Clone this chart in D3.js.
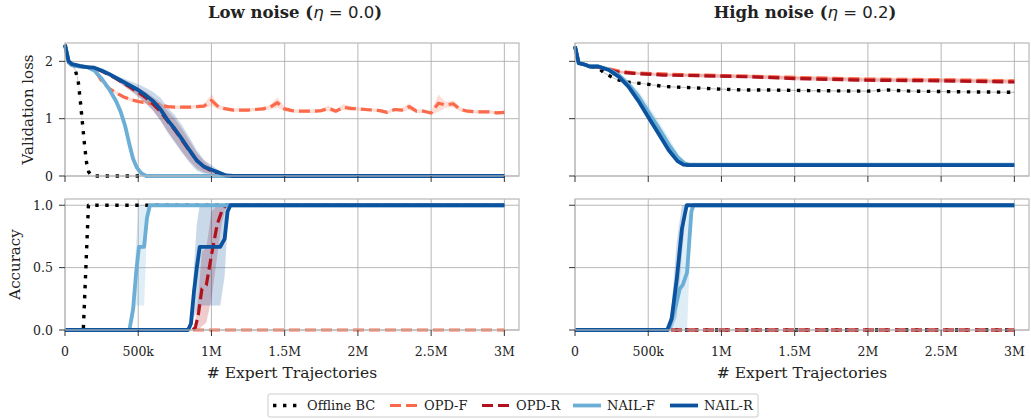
<!DOCTYPE html>
<html>
<head>
<meta charset="utf-8">
<script src="https://cdn.jsdelivr.net/npm/d3@7"></script>
<style>
body { margin: 0; background: #fff; }
text { font-family: "DejaVu Serif", serif; fill: #222; }
</style>
</head>
<body>
<script>
// x in thousands of expert trajectories, [x, mean, spread]
const xTicks = [0, 500, 1000, 1500, 2000, 2500, 3000]
const xTickLabels = ['0', '500k', '1M', '1.5M', '2M', '2.5M', '3M']
const lossTicks = [0, 1, 2]
const accTicks = [0, 0.5, 1]
const methods = ['Offline BC', 'OPD-F', 'OPD-R', 'NAIL-F', 'NAIL-R']
const panelTitles = ['Low noise', 'High noise']
const noiseLevels = ['0.0', '0.2']

// --- low noise, validation loss
const bcLowLoss = [[0,2.29,0],[25,1.98,0],[50,1.93,0.01],[70,1.85,0.02],[90,1.66,0.03],[105,1.3,0.03],[120,0.9,0.03],[135,0.5,0.02],[148,0.22,0.01],[162,0.07,0.01],[180,0.01,0],[200,0,0],[3000,0,0]]
const opdFLowLoss = [[0,2.29,0],[25,1.98,0],[50,1.93,0],[100,1.91,0],[150,1.9,0.01],[200,1.86,0.02],[250,1.66,0.03],[300,1.53,0.03],[350,1.45,0.03],[400,1.38,0.03],[450,1.33,0.03],[500,1.3,0.03],[550,1.28,0.03],[600,1.26,0.03],[650,1.24,0.03],[700,1.21,0.03],[750,1.2,0.03],[800,1.2,0.03],[850,1.2,0.03],[900,1.21,0.03],[950,1.22,0.04],[1000,1.32,0.1],[1050,1.2,0.04],[1100,1.17,0.03],[1150,1.15,0.03],[1200,1.15,0.03],[1250,1.15,0.03],[1300,1.16,0.03],[1350,1.17,0.03],[1400,1.2,0.04],[1450,1.28,0.09],[1500,1.17,0.04],[1550,1.14,0.03],[1600,1.13,0.03],[1650,1.13,0.03],[1700,1.13,0.03],[1750,1.14,0.03],[1800,1.18,0.05],[1850,1.13,0.03],[1900,1.2,0.05],[1950,1.18,0.04],[2000,1.17,0.03],[2050,1.16,0.03],[2100,1.15,0.03],[2150,1.14,0.03],[2200,1.11,0.03],[2250,1.16,0.03],[2300,1.15,0.03],[2350,1.21,0.06],[2400,1.13,0.03],[2450,1.13,0.03],[2500,1.1,0.03],[2550,1.27,0.15],[2600,1.24,0.05],[2650,1.26,0.06],[2700,1.16,0.04],[2750,1.13,0.03],[2800,1.12,0.03],[2850,1.12,0.03],[2900,1.12,0.03],[2950,1.1,0.03],[3000,1.11,0.03]]
const opdRLowLoss = [[0,2.29,0],[25,1.98,0],[50,1.93,0],[100,1.91,0],[150,1.9,0.01],[200,1.88,0.02],[250,1.83,0.02],[300,1.77,0.03],[350,1.7,0.04],[400,1.62,0.05],[450,1.54,0.06],[500,1.46,0.08],[550,1.37,0.1],[600,1.26,0.12],[650,1.13,0.15],[700,0.96,0.18],[750,0.8,0.2],[800,0.62,0.2],[850,0.44,0.18],[900,0.27,0.14],[950,0.16,0.1],[1000,0.09,0.06],[1050,0.02,0.02],[1100,0,0],[3000,0,0]]
const nailFLowLoss = [[0,2.29,0],[25,1.98,0],[50,1.93,0],[100,1.91,0],[150,1.9,0.01],[200,1.84,0.02],[250,1.7,0.04],[300,1.52,0.05],[350,1.3,0.07],[380,1.12,0.09],[410,0.88,0.1],[440,0.55,0.1],[465,0.3,0.08],[490,0.15,0.06],[520,0.05,0.03],[555,0,0],[3000,0,0]]
const nailRLowLoss = [[0,2.29,0],[25,2.0,0],[50,1.95,0],[100,1.92,0],[150,1.9,0.01],[200,1.89,0.02],[250,1.84,0.02],[300,1.78,0.03],[350,1.71,0.04],[400,1.64,0.06],[450,1.57,0.08],[500,1.5,0.1],[550,1.41,0.13],[600,1.31,0.16],[650,1.17,0.2],[700,0.98,0.22],[750,0.82,0.24],[800,0.64,0.24],[850,0.45,0.22],[900,0.27,0.18],[950,0.16,0.12],[1000,0.11,0.08],[1050,0.06,0.04],[1100,0.01,0.01],[1150,0,0],[3000,0,0]]

// --- high noise, validation loss
const bcHighLoss = [[0,2.26,0],[25,1.97,0],[70,1.94,0],[100,1.91,0],[160,1.88,0.01],[205,1.79,0.01],[270,1.7,0.01],[340,1.64,0.01],[470,1.61,0.01],[615,1.56,0.01],[800,1.54,0.01],[950,1.52,0.01],[1150,1.5,0.01],[1300,1.5,0.01],[1600,1.49,0.01],[2000,1.48,0.01],[2130,1.5,0.01],[2300,1.48,0.01],[2600,1.47,0.01],[3000,1.46,0.01]]
const opdFHighLoss = [[0,2.26,0],[25,1.97,0],[70,1.94,0],[100,1.91,0],[160,1.9,0.01],[230,1.87,0.02],[300,1.83,0.02],[400,1.8,0.02],[600,1.78,0.02],[850,1.76,0.03],[1200,1.74,0.03],[1500,1.72,0.03],[2000,1.69,0.03],[2500,1.68,0.03],[3000,1.66,0.03]]
const opdRHighLoss = [[0,2.26,0],[25,1.97,0],[70,1.94,0],[100,1.91,0],[160,1.9,0.01],[230,1.85,0.02],[300,1.81,0.02],[400,1.79,0.02],[600,1.76,0.02],[850,1.75,0.03],[1200,1.73,0.03],[1500,1.7,0.03],[2000,1.67,0.03],[2500,1.66,0.03],[3000,1.64,0.03]]
const nailFHighLoss = [[0,2.26,0],[25,1.97,0],[70,1.94,0],[100,1.91,0],[160,1.91,0.01],[230,1.86,0.02],[300,1.76,0.04],[365,1.6,0.06],[430,1.4,0.1],[500,1.12,0.12],[570,0.84,0.12],[640,0.55,0.12],[700,0.33,0.08],[750,0.22,0.03],[780,0.2,0.01],[3000,0.2,0.01]]
const nailRHighLoss = [[0,2.26,0],[25,1.97,0],[70,1.94,0],[100,1.91,0],[160,1.91,0.01],[230,1.85,0.01],[300,1.73,0.02],[365,1.56,0.02],[430,1.32,0.03],[500,1.03,0.03],[570,0.74,0.03],[640,0.45,0.03],[700,0.26,0.02],[740,0.2,0.01],[770,0.19,0.01],[3000,0.19,0.01]]

// --- low noise, accuracy
const bcLowAcc = [[0,0,0],[125,0,0],[160,1,0],[3000,1,0]]
const opdFLowAcc = [[0,0,0],[3000,0,0]]
const opdRLowAcc = [[0,0,0],[870,0,0],[890,0.02,0.05],[910,0.12,0.15],[935,0.33,0.3],[965,0.36,0.3],[1000,0.6,0.35],[1040,0.85,0.25],[1070,0.95,0.1],[1100,1,0],[3000,1,0]]
const nailFLowAcc = [[0,0,0],[440,0,0],[465,0.17,0.1],[485,0.45,0.25],[505,0.667,0.47],[540,0.667,0.47],[560,0.9,0.1],[580,1,0],[3000,1,0]]
const nailRLowAcc = [[0,0,0],[840,0,0],[860,0.05,0.05],[880,0.3,0.2],[900,0.5,0.35],[920,0.667,0.47],[1060,0.667,0.47],[1090,0.73,0.3],[1110,0.95,0.1],[1130,1,0],[3000,1,0]]

// --- high noise, accuracy
const bcHighAcc = [[0,0,0],[3000,0,0]]
const opdFHighAcc = [[0,0,0],[3000,0,0]]
const opdRHighAcc = [[0,0,0],[3000,0,0]]
const nailFHighAcc = [[0,0,0],[640,0,0],[690,0.2,0.2],[715,0.33,0.35],[735,0.36,0.4],[765,0.46,0.45],[795,0.95,0.1],[810,1,0],[3000,1,0]]
const nailRHighAcc = [[0,0,0],[630,0,0],[660,0.09,0.1],[695,0.41,0.3],[730,0.81,0.2],[763,1,0],[3000,1,0]]

const styles = {
    'Offline BC': { color: '#000000', dash: '3.4,6.6', width: 3.4 },
    'OPD-F': { color: '#fb6a4a', dash: '11,5', width: 3.2 },
    'OPD-R': { color: '#b0121b', dash: '11,5', width: 3.2 },
    'NAIL-F': { color: '#6baed6', dash: null, width: 3.8 },
    'NAIL-R': { color: '#0b539e', dash: null, width: 3.8 }
}

const panels = [
    { row: 0, col: 0, series: [bcLowLoss, opdFLowLoss, opdRLowLoss, nailFLowLoss, nailRLowLoss] },
    { row: 0, col: 1, series: [bcHighLoss, opdFHighLoss, opdRHighLoss, nailFHighLoss, nailRHighLoss] },
    { row: 1, col: 0, series: [bcLowAcc, opdFLowAcc, opdRLowAcc, nailFLowAcc, nailRLowAcc] },
    { row: 1, col: 1, series: [bcHighAcc, opdFHighAcc, opdRHighAcc, nailFHighAcc, nailRHighAcc] }
]

const colLeft = [65, 575]
const plotW = 454
const rows = [
    { top: 43, bottom: 176, domain: [0, 2.32], ticks: lossTicks, fmt: d => d, label: 'Validation loss', labelX: 27.5, clampTop: Infinity },
    { top: 199, bottom: 330, domain: [0, 1.05], ticks: accTicks, fmt: d3.format('.1f'), label: 'Accuracy', labelX: 15, clampTop: 1 }
]

const svg = d3.select('body').append('svg')
    .attr('width', 1031)
    .attr('height', 419)

panels.forEach(p => {
    const r = rows[p.row]
    const left = colLeft[p.col]
    const x = d3.scaleLinear().domain([0, 3100]).range([left, left + plotW])
    const y = d3.scaleLinear().domain(r.domain).range([r.bottom, r.top])
    const g = svg.append('g')

    // grid
    g.selectAll('.vg').data(xTicks).enter().append('line')
        .attr('x1', d => x(d)).attr('x2', d => x(d))
        .attr('y1', r.top).attr('y2', r.bottom)
        .attr('stroke', '#b0b0b0').attr('stroke-width', 0.9)
    g.selectAll('.hg').data(r.ticks).enter().append('line')
        .attr('x1', left).attr('x2', left + plotW)
        .attr('y1', d => y(d)).attr('y2', d => y(d))
        .attr('stroke', '#b0b0b0').attr('stroke-width', 0.9)

    // bands
    p.series.forEach((s, i) => {
        const st = styles[methods[i]]
        const area = d3.area()
            .x(d => x(d[0]))
            .y0(d => y(Math.max(0, d[1] - d[2])))
            .y1(d => y(Math.min(r.clampTop, d[1] + d[2])))
        g.append('path').datum(s)
            .attr('d', area)
            .attr('fill', st.color)
            .attr('fill-opacity', 0.22)
    })

    // lines
    p.series.forEach((s, i) => {
        const st = styles[methods[i]]
        const line = d3.line().x(d => x(d[0])).y(d => y(d[1]))
        g.append('path').datum(s)
            .attr('d', line)
            .attr('fill', 'none')
            .attr('stroke', st.color)
            .attr('stroke-width', st.width)
            .attr('stroke-dasharray', st.dash)
            .attr('stroke-linejoin', 'round')
    })

    // spines
    g.append('rect')
        .attr('x', left).attr('y', r.top)
        .attr('width', plotW).attr('height', r.bottom - r.top)
        .attr('fill', 'none').attr('stroke', '#b8b8b8').attr('stroke-width', 1.2)

    // ticks
    g.selectAll('.yt').data(r.ticks).enter().append('line')
        .attr('x1', left - 6).attr('x2', left)
        .attr('y1', d => y(d)).attr('y2', d => y(d))
        .attr('stroke', '#333').attr('stroke-width', 1)
    g.selectAll('.xt').data(xTicks).enter().append('line')
        .attr('x1', d => x(d)).attr('x2', d => x(d))
        .attr('y1', r.bottom).attr('y2', r.bottom + 6)
        .attr('stroke', '#333').attr('stroke-width', 1)

    if (p.col === 0) {
        g.selectAll('.yl').data(r.ticks).enter().append('text')
            .attr('x', left - 12).attr('y', d => y(d))
            .attr('text-anchor', 'end').attr('dominant-baseline', 'central')
            .attr('font-size', 12.5)
            .text(r.fmt)
        g.append('text')
            .attr('transform', `translate(${r.labelX},${(r.top + r.bottom) / 2}) rotate(-90)`)
            .attr('text-anchor', 'middle').attr('dominant-baseline', 'central')
            .attr('font-size', 15)
            .text(r.label)
    }

    if (p.row === 1) {
        g.selectAll('.xl').data(xTicks).enter().append('text')
            .attr('x', d => x(d)).attr('y', r.bottom + 21)
            .attr('text-anchor', 'middle').attr('dominant-baseline', 'central')
            .attr('font-size', 12.5)
            .text((d, i) => xTickLabels[i])
        g.append('text')
            .attr('x', left + plotW / 2).attr('y', r.bottom + 43)
            .attr('text-anchor', 'middle').attr('dominant-baseline', 'central')
            .attr('font-size', 15.5)
            .text('# Expert Trajectories')
    }

    if (p.row === 0) {
        const t = g.append('text')
            .attr('x', left + plotW / 2 + 3).attr('y', 12)
            .attr('text-anchor', 'middle').attr('dominant-baseline', 'central')
            .attr('font-size', 16.5)
        t.append('tspan').attr('font-weight', 'bold').text(panelTitles[p.col] + ' (')
        t.append('tspan').attr('font-family', 'DejaVu Sans').attr('font-style', 'italic').text('η')
        t.append('tspan').attr('font-family', 'DejaVu Sans').text(' = ' + noiseLevels[p.col])
        t.append('tspan').attr('font-weight', 'bold').text(')')
    }
})

// legend
const legend = svg.append('g')
legend.append('rect')
    .attr('x', 268).attr('y', 394).attr('width', 490).attr('height', 23)
    .attr('rx', 2).attr('fill', '#fff').attr('stroke', '#cccccc')
const legendX = [273, 390, 482, 573, 670]
methods.forEach((m, i) => {
    const st = styles[m]
    legend.append('line')
        .attr('x1', legendX[i]).attr('x2', legendX[i] + 28)
        .attr('y1', 405.5).attr('y2', 405.5)
        .attr('stroke', st.color).attr('stroke-width', st.width)
        .attr('stroke-dasharray', st.dash)
    legend.append('text')
        .attr('x', legendX[i] + 34).attr('y', 405.5)
        .attr('dominant-baseline', 'central')
        .attr('font-size', 13)
        .text(m)
})
</script>
</body>
</html>
